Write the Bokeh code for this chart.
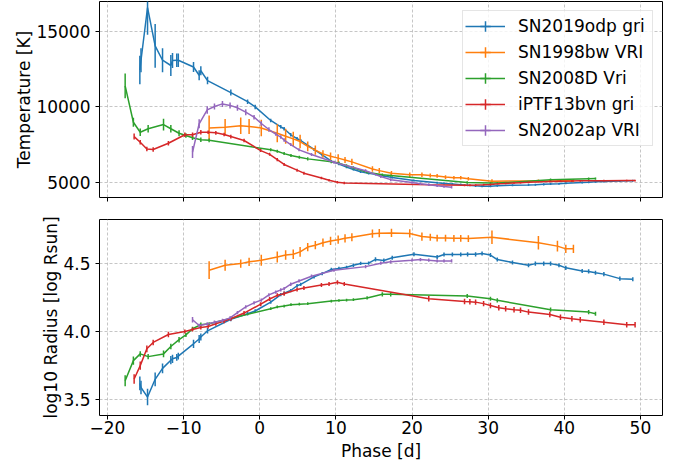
from bokeh.plotting import figure
from bokeh.layouts import column
from bokeh.models import ColumnDataSource, Range1d, FixedTicker, Legend, LegendItem
from bokeh.embed import file_html
from bokeh.resources import INLINE

# ---------------- data ----------------
names = ["SN2019odp gri", "SN1998bw VRI", "SN2008D Vri", "iPTF13bvn gri", "SN2002ap VRI"]
colors = ["#1f77b4", "#ff7f0e", "#2ca02c", "#d62728", "#9467bd"]

phase_19odp = [-15.75, -15.6, -14.74, -13.74, -12.77, -11.68, -11.46, -10.9, -10.7, -8.7, -7.96, -7.74, -6.86,
               -3.8, -1.6, -0.6, 1.44, 2.76, 3.2, 4.07, 4.9, 5.38, 7.13, 8.2, 9.4, 10.4, 11.4, 12.3, 13.25,
               14.3, 15.2, 16.3, 17.4, 20.25, 23.3, 24.2, 25.3, 26.4, 27.3, 28.35, 29.2, 30.3, 31.2, 33.2,
               35.3, 36.2, 37.3, 38.2, 39.3, 40.2, 42.35, 43.2, 44.1, 45.2, 47.3, 49.0]
temp_19odp = [12450, 13100, 16600, 14050, 13100, 12750, 13080, 13100, 13100, 12650, 12100, 12400, 11750,
              10950, 10350, 10000, 9100, 8680, 8550, 8150, 7900, 7770, 7175, 6810, 6400, 6200, 6000, 5850, 5700,
              5600, 5520, 5420, 5320, 5110, 4960, 4920, 4880, 4840, 4800, 4760, 4730, 4740, 4770, 4800,
              4820, 4830, 4860, 4880, 4900, 4930, 4980, 5000, 5030, 5050, 5080, 5100]
temp_err_19odp = [950, 800, 1800, 1450, 800, 700, 500, 450, 450, 330, 330, 300, 250,
                  200, 150, 150, 120, 120, 120, 120, 100, 100, 100, 100, 80, 80, 80, 80, 80,
                  80, 80, 80, 80, 70, 70, 70, 70, 70, 70, 70, 70, 70, 70, 70,
                  70, 70, 70, 70, 70, 70, 70, 70, 70, 70, 70, 70]
logr_19odp = [3.62, 3.59, 3.52, 3.65, 3.73, 3.79, 3.80, 3.81, 3.82, 3.91, 3.945, 3.96, 4.005,
              4.09, 4.13, 4.15, 4.215, 4.27, 4.28, 4.30, 4.335, 4.345, 4.40, 4.424, 4.454, 4.462, 4.47, 4.485, 4.498,
              4.50, 4.528, 4.52, 4.54, 4.566, 4.546, 4.564, 4.564, 4.564, 4.565, 4.565, 4.571, 4.56, 4.527, 4.505,
              4.485, 4.497, 4.497, 4.497, 4.485, 4.466, 4.443, 4.44, 4.43, 4.42, 4.387, 4.382]
logr_err_19odp = [0.05, 0.05, 0.06, 0.05, 0.035, 0.03, 0.03, 0.025, 0.025, 0.03, 0.03, 0.025, 0.02,
                  0.015, 0.012, 0.012, 0.012, 0.012, 0.012, 0.012, 0.012, 0.012, 0.012, 0.012, 0.012, 0.012, 0.012, 0.012, 0.012,
                  0.012, 0.015, 0.015, 0.015, 0.015, 0.015, 0.015, 0.015, 0.015, 0.015, 0.015, 0.015, 0.015, 0.015, 0.015,
                  0.015, 0.015, 0.015, 0.015, 0.015, 0.015, 0.015, 0.015, 0.015, 0.015, 0.015, 0.015]

phase_98bw = [-6.65, -4.55, -2.5, -1.4, 0.2, 2.3, 3.4, 4.4, 5.3, 6.3, 7.3, 8.3, 9.3, 10.3, 11.2, 12.1,
              14.8, 15.7, 17.3, 19.7, 21.3, 22.4, 23.3, 24.4, 25.5, 26.4, 27.4, 30.5, 36.6, 39.1, 40.2, 41.2]
temp_98bw = [8600, 8650, 8750, 8700, 8600, 8250, 8050, 7880, 7700, 7380, 7130, 6880, 6730, 6600, 6480, 6350,
             5880, 5770, 5600, 5490, 5490, 5450, 5420, 5340, 5300, 5300, 5230, 5070, 5080, 5090, 5100, 5100]
temp_err_98bw = [830, 550, 550, 500, 550, 600, 500, 470, 450, 330, 300, 250, 250, 250, 200, 200,
                 180, 180, 150, 150, 150, 130, 130, 120, 120, 120, 120, 120, 100, 100, 100, 100]
logr_98bw = [4.449, 4.485, 4.497, 4.51, 4.522, 4.546, 4.56, 4.566, 4.583, 4.618, 4.632, 4.65, 4.663, 4.672, 4.682, 4.69,
             4.716, 4.72, 4.722, 4.718, 4.695, 4.69, 4.684, 4.684, 4.682, 4.682, 4.68, 4.69, 4.65, 4.625, 4.605, 4.605]
logr_err_98bw = [0.065, 0.04, 0.03, 0.03, 0.04, 0.04, 0.035, 0.035, 0.035, 0.03, 0.03, 0.03, 0.03, 0.03, 0.03, 0.03,
                 0.03, 0.03, 0.03, 0.03, 0.03, 0.025, 0.025, 0.025, 0.025, 0.025, 0.025, 0.05, 0.05, 0.04, 0.03, 0.03]

phase_08D = [-17.68, -16.6, -15.7, -14.66, -12.64, -11.68, -10.6, -9.7, -8.83, -7.74, -6.65, 1.44, 2.3, 3.2, 4.1,
             5.2, 6.3, 9.4, 10.4, 11.4, 12.3, 14.1, 16.1, 17.2, 27.25, 30.3, 31.2, 38.2, 43.2, 44.1]
temp_08D = [11400, 8980, 8320, 8550, 8830, 8550, 8250, 8100, 7950, 7820, 7780, 7150, 7060, 6900, 6780,
            6660, 6550, 6360, 6270, 6100, 5960, 5660, 5500, 5440, 4980, 4940, 4940, 5160, 5230, 5240]
temp_err_08D = [820, 300, 250, 250, 390, 250, 200, 150, 150, 150, 120, 100, 100, 100, 100,
                100, 100, 100, 100, 100, 100, 80, 80, 80, 80, 80, 80, 80, 80, 80]
logr_08D = [3.64, 3.787, 3.836, 3.816, 3.836, 3.89, 3.94, 3.975, 4.02, 4.05, 4.057, 4.167, 4.18, 4.186, 4.196,
            4.2, 4.204, 4.223, 4.227, 4.23, 4.233, 4.246, 4.272, 4.272, 4.26, 4.24, 4.228, 4.16, 4.142, 4.13]
logr_err_08D = [0.04, 0.03, 0.02, 0.02, 0.025, 0.02, 0.02, 0.015, 0.015, 0.015, 0.01, 0.01, 0.01, 0.01, 0.01,
                0.01, 0.01, 0.01, 0.01, 0.01, 0.01, 0.012, 0.015, 0.015, 0.015, 0.015, 0.015, 0.015, 0.015, 0.015]

phase_13bvn = [-16.5, -15.7, -14.83, -14.0, -12.0, -9.84, -8.83, -7.74, -6.78, -5.77, -4.68, -3.8, -2.06,
               0.13, 1.3, 2.3, 3.2, 4.9, 5.8, 8.1, 9.1, 10.2, 11.1,
               22.2, 26.9, 27.6, 28.35, 29.4, 30.3, 31.4, 32.3, 33.4, 34.25, 35.3,
               38.1, 39.5, 41.0, 42.1, 45.2, 48.2, 49.3]
temp_13bvn = [8030, 7650, 7200, 7170, 7590, 8150, 8150, 8320, 8320, 8280, 8170, 8030, 7770,
              7100, 6850, 6500, 6180, 5800, 5600, 5280, 5130, 5000, 4950,
              4830, 4800, 4800, 4810, 4830, 4850, 4900, 4920, 4950, 4970, 4990,
              5050, 5070, 5080, 5090, 5100, 5110, 5110]
temp_err_13bvn = [200, 150, 150, 150, 150, 150, 150, 150, 120, 120, 120, 120, 120,
                  100, 100, 100, 100, 100, 100, 80, 80, 80, 80,
                  60, 60, 60, 60, 60, 60, 60, 60, 60, 60, 60,
                  60, 60, 60, 60, 60, 60, 60]
logr_13bvn = [3.652, 3.75, 3.873, 3.92, 3.978, 4.0, 4.015, 4.03, 4.037, 4.057, 4.076, 4.093, 4.135,
              4.2, 4.238, 4.265, 4.277, 4.307, 4.318, 4.34, 4.348, 4.36, 4.348,
              4.24, 4.22, 4.218, 4.215, 4.204, 4.19, 4.174, 4.167, 4.16, 4.156, 4.142,
              4.125, 4.105, 4.093, 4.086, 4.068, 4.05, 4.05]
logr_err_13bvn = [0.035, 0.03, 0.025, 0.02, 0.02, 0.015, 0.015, 0.015, 0.015, 0.015, 0.015, 0.015, 0.015,
                  0.015, 0.015, 0.015, 0.015, 0.015, 0.015, 0.015, 0.015, 0.015, 0.015,
                  0.02, 0.02, 0.02, 0.02, 0.02, 0.02, 0.02, 0.02, 0.02, 0.02, 0.02,
                  0.02, 0.02, 0.02, 0.02, 0.02, 0.02, 0.02]

phase_02ap = [-8.83, -7.96, -6.9, -5.95, -4.9, -3.9, -2.93, -1.84, -0.75, 0.2, 1.2, 2.1, 2.76, 3.2,
              4.07, 5.16, 6.8, 9.75, 13.9, 15.9, 17.2, 20.0, 21.1, 22.2, 23.3, 24.2, 25.2]
temp_02ap = [7000, 8880, 9800, 10030, 10200, 10100, 9940, 9650, 9320, 8900, 8500, 8200, 8000, 7800,
             7500, 7150, 6840, 6330, 5760, 5380, 5170, 4980, 4900, 4830, 4760, 4710, 4670]
temp_err_02ap = [400, 300, 250, 200, 200, 200, 200, 200, 150, 150, 150, 120, 120, 120,
                 100, 100, 100, 100, 100, 100, 100, 80, 80, 80, 80, 80, 80]
logr_02ap = [4.086, 4.044, 4.055, 4.068, 4.081, 4.1, 4.138, 4.18, 4.21, 4.23, 4.268, 4.289, 4.305, 4.314,
             4.346, 4.37, 4.405, 4.449, 4.475, 4.50, 4.51, 4.522, 4.527, 4.522, 4.517, 4.517, 4.517]
logr_err_02ap = [0.02, 0.012, 0.012, 0.012, 0.012, 0.012, 0.012, 0.012, 0.012, 0.012, 0.012, 0.012, 0.012, 0.012,
                 0.012, 0.012, 0.012, 0.012, 0.012, 0.012, 0.012, 0.012, 0.012, 0.012, 0.012, 0.012, 0.012]

x_ticks = [-20, -10, 0, 10, 20, 30, 40, 50]
x_tick_labels = ["\u221220", "\u221210", "0", "10", "20", "30", "40", "50"]
temp_ticks = [5000, 10000, 15000]
logr_ticks = [3.5, 4.0, 4.5]
logr_tick_labels = ["3.5", "4.0", "4.5"]

series = [
    (phase_19odp, temp_19odp, temp_err_19odp, logr_19odp, logr_err_19odp),
    (phase_98bw, temp_98bw, temp_err_98bw, logr_98bw, logr_err_98bw),
    (phase_08D, temp_08D, temp_err_08D, logr_08D, logr_err_08D),
    (phase_13bvn, temp_13bvn, temp_err_13bvn, logr_13bvn, logr_err_13bvn),
    (phase_02ap, temp_02ap, temp_err_02ap, logr_02ap, logr_err_02ap),
]

FONT = "DejaVu Sans"
FS = "17px"
W = 686
xr = Range1d(-21.05, 52.9)


def style(p):
    p.outline_line_color = "black"
    p.outline_line_width = 1
    p.outline_line_alpha = 1
    for g in (p.xgrid[0], p.ygrid[0]):
        g.grid_line_color = "#b8b8b8"
        g.grid_line_dash = "3 2"
        g.grid_line_width = 0.8
    for ax in (p.xaxis[0], p.yaxis[0]):
        ax.axis_line_color = None
        ax.major_tick_line_color = "black"
        ax.major_tick_line_width = 1
        ax.major_tick_out = 4
        ax.major_tick_in = 0
        ax.minor_tick_line_color = None
        ax.major_label_text_font = FONT
        ax.major_label_text_font_size = FS
        ax.major_label_text_color = "black"
        ax.axis_label_text_font = FONT
        ax.axis_label_text_font_size = FS
        ax.axis_label_text_font_style = "normal"
        ax.axis_label_text_color = "black"
    p.xaxis[0].ticker = FixedTicker(ticks=x_ticks)
    p.yaxis[0].major_label_standoff = 5
    p.yaxis[0].axis_label_standoff = -1


p1 = figure(width=W, height=208, x_range=xr, y_range=Range1d(3985, 17000),
            output_backend="svg", toolbar_location=None,
            min_border_left=99, min_border_right=24, min_border_top=1, min_border_bottom=11)
style(p1)
p1.yaxis[0].ticker = FixedTicker(ticks=temp_ticks)
p1.yaxis[0].axis_label = "Temperature [K]"
# shared x axis: tick marks only, no labels on the upper panel
p1.xaxis[0].major_label_overrides = {t: "" for t in x_ticks}
p1.xaxis[0].major_label_text_font_size = "1px"
p1.xaxis[0].major_label_standoff = 0

p2 = figure(width=W, height=255, x_range=xr, y_range=Range1d(3.385, 4.82),
            output_backend="svg", toolbar_location=None,
            min_border_left=99, min_border_right=24, min_border_top=11, min_border_bottom=48)
style(p2)
p2.yaxis[0].ticker = FixedTicker(ticks=logr_ticks)
p2.yaxis[0].major_label_overrides = {t: l for t, l in zip(logr_ticks, logr_tick_labels)}
p2.yaxis[0].axis_label = "log10 Radius [log Rsun]"
p2.xaxis[0].major_label_overrides = {t: l for t, l in zip(x_ticks, x_tick_labels)}
p2.xaxis[0].axis_label = "Phase [d]"
p2.xaxis[0].major_label_standoff = 1
p2.xaxis[0].axis_label_standoff = 4

items = []
for (ph, t, te, r, re), name, c in zip(series, names, colors):
    src = ColumnDataSource(dict(
        x=ph, t=t, r=r,
        t_lo=[a - b for a, b in zip(t, te)], t_hi=[a + b for a, b in zip(t, te)],
        r_lo=[a - b for a, b in zip(r, re)], r_hi=[a + b for a, b in zip(r, re)],
    ))
    l1 = p1.line("x", "t", source=src, line_color=c, line_width=1.5)
    p1.segment(x0="x", y0="t_lo", x1="x", y1="t_hi", source=src, line_color=c, line_width=1.5)
    m1 = p1.scatter("x", "t", source=src, marker="cross", size=0, line_color=c, line_width=1.5)
    p2.line("x", "r", source=src, line_color=c, line_width=1.5)
    p2.segment(x0="x", y0="r_lo", x1="x", y1="r_hi", source=src, line_color=c, line_width=1.5)
    items.append(LegendItem(label=name, renderers=[l1, m1]))

legend = Legend(items=items, location="top_right", margin=9, padding=2, spacing=0,
                glyph_width=40, glyph_height=26, label_height=26, label_width=132, label_standoff=13,
                label_text_font=FONT, label_text_font_size=FS, label_text_color="black",
                border_line_color="#cccccc", border_line_width=1, background_fill_alpha=0.8)
p1.add_layout(legend)

layout = column(p1, p2, spacing=0)
with open("out.html", "w") as f:
    f.write(file_html(layout, INLINE))
